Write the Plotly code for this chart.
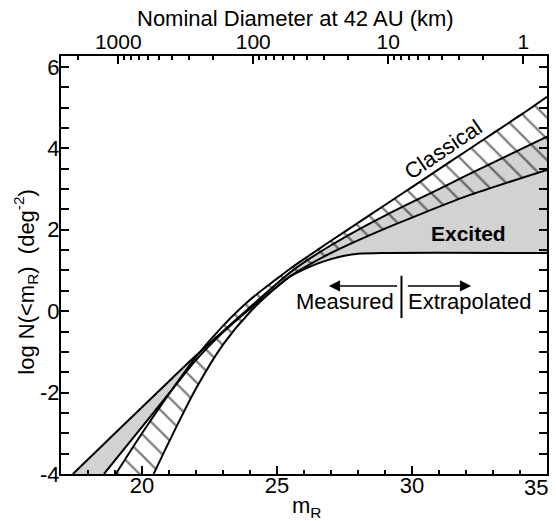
import plotly.graph_objects as go

# ---- data: envelope curves, (m_R, log N(<m_R)) ----
classical_upper_m = [19.03, 20, 21, 22, 23, 24, 25, 25.5, 26, 27, 28, 29, 30, 31, 32, 33, 34, 35]
classical_upper_y = [-4.0, -3.0, -2.03, -1.12, -0.36, 0.28, 0.8, 1.05, 1.28, 1.73, 2.17, 2.61, 3.05, 3.49, 3.93, 4.37, 4.81, 5.27]
classical_lower_m = [20.43, 21, 22, 23, 24, 25, 25.5, 26, 27, 28, 29, 30, 32, 35]
classical_lower_y = [-4.0, -3.21, -1.9, -0.82, -0.02, 0.6, 0.86, 1.07, 1.43, 1.74, 2.03, 2.3, 2.82, 3.47]
excited_upper_m = [17.44, 19, 20, 21, 22, 23, 24, 25, 25.5, 26, 27, 28, 29, 30, 31, 32, 33, 34, 35]
excited_upper_y = [-4.0, -3.0, -2.36, -1.72, -1.09, -0.49, 0.1, 0.68, 0.96, 1.2, 1.62, 2.0, 2.35, 2.68, 3.0, 3.33, 3.65, 3.97, 4.29]
excited_lower_m = [18.59, 20, 21, 22, 23, 24, 25, 25.5, 26, 26.5, 27, 27.5, 28, 29, 35]
excited_lower_y = [-4.0, -2.84, -2.02, -1.2, -0.52, 0.06, 0.6, 0.86, 1.03, 1.17, 1.28, 1.36, 1.41, 1.43, 1.43]

# ---- axes / ticks ----
x_ticks = [20, 25, 30, 35]
x_ticktext = ["20", "25", "30", ""]
y_ticks = [-4, -2, 0, 2, 4, 6]
y_ticktext = ["-4", "-2", "0", "2", "4", "6"]
diam_ticks = [1000, 100, 10, 1]
diam_ticktext = ["1000", "100", "10", "1"]
diam_minor = [2000] + [k * 100 for k in range(2, 10)] + [k * 10 for k in range(2, 10)] + [k for k in range(2, 10)]
m_zero = 34.12  # m_R of a 1 km body at 42 AU
m_range = [17, 35]
y_range = [-4, 6.27]

FONT = "Liberation Sans, Arial, Helvetica, sans-serif"
GREY = "#d2d2d2"
spl = dict(shape="spline", smoothing=0.8)

fig = go.Figure()

# Excited band (grey)
fig.add_trace(go.Scatter(x=excited_lower_m, y=excited_lower_y, mode="lines",
                         line=dict(width=0, **spl), showlegend=False, hoverinfo="skip"))
fig.add_trace(go.Scatter(x=excited_upper_m, y=excited_upper_y, mode="lines",
                         line=dict(width=0, **spl), fill="tonexty", fillcolor=GREY,
                         showlegend=False, hoverinfo="skip"))
# Classical band (hatched)
fig.add_trace(go.Scatter(x=classical_lower_m, y=classical_lower_y, mode="lines",
                         line=dict(width=0, **spl), showlegend=False, hoverinfo="skip"))
fig.add_trace(go.Scatter(x=classical_upper_m, y=classical_upper_y, mode="lines",
                         line=dict(width=0, **spl), fill="tonexty",
                         fillcolor="rgba(0,0,0,0)",
                         fillpattern=dict(shape="\\", size=15, solidity=0.15,
                                          fgcolor="black", bgcolor="rgba(0,0,0,0)"),
                         showlegend=False, hoverinfo="skip"))
# Outlines
for xs, ys in [(excited_lower_m, excited_lower_y), (excited_upper_m, excited_upper_y),
               (classical_lower_m, classical_lower_y), (classical_upper_m, classical_upper_y)]:
    fig.add_trace(go.Scatter(x=xs, y=ys, mode="lines",
                             line=dict(color="black", width=2, **spl),
                             showlegend=False, hoverinfo="skip"))

# dummy trace for the top (diameter) axis
fig.add_trace(go.Scatter(x=[1000], y=[None], xaxis="x2", yaxis="y", mode="markers",
                         showlegend=False, hoverinfo="skip"))

d_lo = (m_zero - m_range[0]) / 5.0
d_hi = (m_zero - m_range[1]) / 5.0

fig.update_layout(
    width=556, height=521,
    margin=dict(l=61, r=7, t=56, b=47),
    paper_bgcolor="white", plot_bgcolor="white",
    font=dict(family=FONT, size=22, color="black"),
    xaxis=dict(range=m_range, tickvals=x_ticks, ticktext=x_ticktext, ticks="inside",
               ticklen=8, tickwidth=1.5, ticklabelstandoff=-9,
               tickcolor="black", showline=True, linewidth=2, linecolor="black", mirror=True,
               showgrid=False, zeroline=False, tickfont=dict(size=22),
               minor=dict(dtick=1, tick0=17, ticks="inside", ticklen=4, tickwidth=1.5,
                          tickcolor="black", showgrid=False)),
    yaxis=dict(range=y_range, tickvals=y_ticks, ticktext=y_ticktext, ticks="inside",
               ticklen=8, tickwidth=1.5, tickcolor="black", showline=True, linewidth=2,
               linecolor="black", mirror="allticks", showgrid=False, zeroline=False,
               ticklabelstandoff=-5, tickfont=dict(size=22),
               minor=dict(dtick=0.5, tick0=0, ticks="inside", ticklen=4, tickwidth=1.5,
                          tickcolor="black", showgrid=False)),
    xaxis2=dict(overlaying="x", side="top", type="log", range=[d_lo, d_hi],
                tickvals=diam_ticks, ticktext=diam_ticktext, ticks="inside", ticklen=8,
                tickwidth=1.5, tickcolor="black", showline=False, showgrid=False,
                zeroline=False, ticklabelstandoff=2, tickfont=dict(size=21),
                minor=dict(tickmode="array", tickvals=diam_minor, ticks="inside", ticklen=4,
                           tickwidth=1.5, tickcolor="black", showgrid=False)),
)

# last bottom tick label, pulled in from the edge as in the original
fig.add_annotation(text="35", x=35, y=0, xref="x", yref="paper", xshift=-11, yshift=-13,
                   xanchor="center", yanchor="middle", showarrow=False, font=dict(size=22))

# axis titles
fig.add_annotation(text="Nominal Diameter at 42 AU (km)", xref="paper", yref="paper",
                   x=0.483, y=1.0, yshift=38, xanchor="center", yanchor="middle",
                   showarrow=False, font=dict(size=22))
fig.add_annotation(text="m<sub>R</sub>", xref="paper", yref="paper", x=0.506, y=0,
                   yshift=-33, xanchor="center", yanchor="middle", showarrow=False,
                   font=dict(size=22))
fig.add_annotation(text="log N(<m<sub>R</sub>)  (deg<sup>-2</sup>)", xref="paper", yref="paper",
                   x=0, xshift=-35, y=0.46, xanchor="center", yanchor="middle",
                   textangle=-90, showarrow=False, font=dict(size=22))

# labels inside the plot
fig.add_annotation(text="Classical", x=31.15, y=3.98, textangle=-34, showarrow=False,
                   font=dict(size=22))
fig.add_annotation(text="<b>Excited</b>", x=32.08, y=1.92, showarrow=False,
                   font=dict(size=21))
fig.add_annotation(text="Measured", x=29.42, y=0.24, xanchor="right", yanchor="middle",
                   showarrow=False, font=dict(size=22))
fig.add_annotation(text="Extrapolated", x=29.79, y=0.24, xanchor="left", yanchor="middle",
                   showarrow=False, font=dict(size=22))
fig.add_annotation(x=26.92, y=0.62, ax=29.5, ay=0.62, xref="x", yref="y", axref="x", ayref="y",
                   text="", showarrow=True, arrowhead=2, arrowsize=1.4, arrowwidth=1.6,
                   arrowcolor="black")
fig.add_annotation(x=32.19, y=0.62, ax=29.79, ay=0.62, xref="x", yref="y", axref="x", ayref="y",
                   text="", showarrow=True, arrowhead=2, arrowsize=1.4, arrowwidth=1.6,
                   arrowcolor="black")
fig.add_shape(type="line", x0=29.61, x1=29.61, y0=-0.17, y1=0.87, xref="x", yref="y",
              line=dict(color="black", width=2))

fig.write_html("out.html")
